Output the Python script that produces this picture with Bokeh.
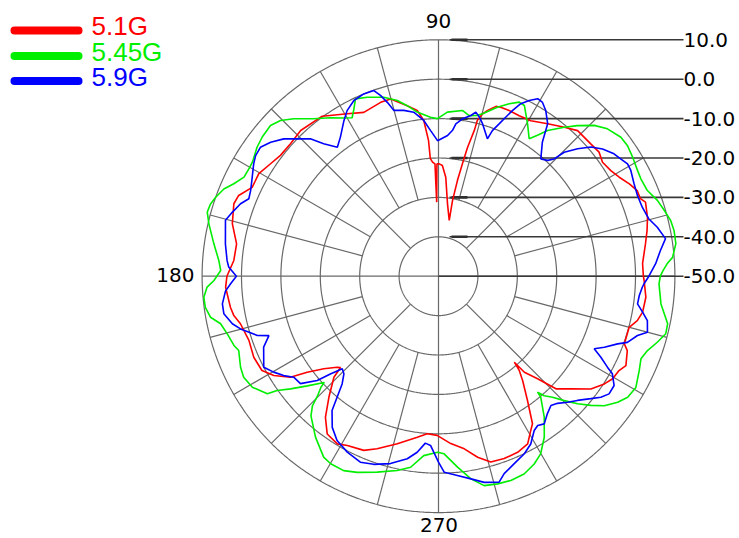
import numpy as np
from bokeh.plotting import figure
from bokeh.models import Range1d, ColumnDataSource
from bokeh.embed import file_html
from bokeh.resources import INLINE
from bokeh.core.properties import value

# ---------------- data ----------------
series_names = ["5.1G", "5.45G", "5.9G"]

red_deg = [0, 3.6, 9.0, 12.4, 15.7, 19.7, 21.0, 23.3, 25.8, 28.7, 31.5, 34.8, 37.7, 41.0, 46.3,
           49.8, 54.4, 59.3, 63.3, 66.9, 69.8, 71.3, 73.5, 74.8, 76.0, 76.2, 77.3, 78.0, 78.8,
           79.5, 79.1, 82.9, 85.8, 88.0, 89.6, 90.8, 91.4, 91.8, 93.0, 94.0, 94.2, 95.4, 97.3,
           100.4, 105.1, 108.4, 114.5, 119.3, 126.0, 133.4, 138.2, 142.6, 146.2, 150.3, 154.5,
           158.0, 160.5, 165.7, 170.9, 175.6, 180.0, 183.0, 188.5, 190.9, 193.5, 198.7, 203.7,
           208.1, 211.1, 214.3, 216.2, 218.9, 221.9, 223.0, 224.0, 227.8, 231.3, 234.8, 238.9,
           241.7, 246.8, 250.4, 256.2, 262.5, 265.9, 269.5, 274.2, 278.5, 282.2, 285.7, 289.8,
           294.2, 298.0, 300.9, 302.5, 305.6, 308.9, 310.6, 311.4, 311.8, 314.0, 316.2, 319.6,
           323.5, 327.0, 329.5, 332.4, 334.5, 338.5, 340.0, 345.0, 347.4, 350.0, 354.2, 358.8, 360]
red_db = [2.0, 1.9, 3.2, 4.2, 5.1, 5.8, 4.9, 4.9, 3.8, 2.3, 1.3, 0.7, 1.5, 1.2, 1.1,
          -0.5, -2.4, -4.1, -4.4, -4.3, -4.3, -4.5, -6.1, -7.3, -9.3, -11.9, -16.5, -20.8, -25.2,
          -30.5, -35.6, -31.5, -24.8, -21.9, -21.5, -21.5, -31.2, -21.5, -21.0, -20.0, -15.5, -10.3, -7.6,
          -6.0, -3.4, -3.5, -4.3, -2.7, 0.2, 0.9, 0.4, 0.5, 1.3, 2.5, 2.4,
          4.7, 5.1, 4.0, 1.9, 2.1, 3.7, 4.1, 3.4, 2.9, 1.7, 0.8, 1.2,
          0.8, -1.2, -4.5, -8.7, -12.6, -15.4, -16.0, -13.1, -8.6, -4.1, -1.0, -0.3,
          -1.2, -1.9, -3.5, -6.2, -8.8, -9.9, -9.6, -7.4, -5.7, -3.0, -1.0, -0.8,
          -1.0, -1.8, -4.4, -5.6, -11.2, -16.0, -18.5, -20.9, -17.3, -13.8, -8.7, -5.9,
          -1.9, 0.2, 1.3, 1.7, 2.7, 1.5, 0.2, 0.1, 1.7, 2.6, 2.9, 2.2, 2.0]

green_deg = [0, 1.4, 3.1, 4.6, 7.8, 11.0, 13.5, 16.2, 19.1, 22.3, 25.7, 28.0, 31.5, 34.7, 37.3,
             41.1, 44.1, 47.3, 49.8, 53.2, 54.9, 56.6, 59.7, 63.3, 65.1, 67.7, 70.8, 74.8, 76.4,
             79.2, 81.8, 86.9, 90.4, 92.9, 97.4, 100.4, 103.2, 107.0, 111.7, 115.1, 116.8, 118.6,
             120.9, 124.3, 128.4, 132.6, 135.4, 138.1, 141.7, 144.6, 148.5, 150.5, 153.0, 155.7,
             157.9, 160.5, 162.4, 164.5, 167.1, 171.8, 175.9, 178.5, 181.1, 182.7, 185.1, 187.6,
             190.2, 192.3, 195.2, 198.7, 200.4, 204.7, 207.4, 210.8, 214.5, 215.3, 217.3, 219.9,
             222.9, 223.4, 224.7, 225.8, 227.6, 232.6, 237.6, 240.1, 244.0, 247.5, 252.6, 258.0,
             261.7, 265.3, 269.7, 271.8, 275.7, 279.1, 282.3, 285.9, 289.5, 293.4, 297.0, 299.9,
             303.3, 306.9, 310.2, 310.5, 311.5, 313.3, 315.3, 317.5, 319.7, 322.0, 324.9, 327.4,
             330.6, 334.8, 337.8, 340.4, 343.2, 345.8, 348.3, 352.9, 358.0, 360]
green_db = [6.3, 7.0, 8.1, 9.6, 10.8, 10.9, 10.6, 9.7, 8.8, 7.3, 7.0, 7.2, 7.8, 8.3, 8.2,
            6.9, 5.0, 2.0, -0.5, -3.8, -6.3, -8.2, -5.2, -1.5, -1.3, -2.7, -4.6, -7.3, -8.0,
            -8.5, -7.5, -8.3, -10.0, -9.6, -8.0, -6.0, -4.2, -2.5, -1.1, -0.3, -2.4, -4.2,
            -3.2, -1.3, 1.0, 4.3, 6.3, 7.3, 7.0, 6.5, 5.4, 5.3, 5.4, 7.0,
            8.8, 10.0, 10.7, 10.9, 9.8, 7.6, 5.9, 5.3, 7.0, 8.8, 9.8, 9.7,
            8.8, 6.6, 5.6, 4.8, 4.1, 5.3, 5.7, 5.0, 2.7, 0.2, -2.8, -6.6,
            -10.4, -8.9, -6.8, -4.1, -2.0, 1.4, 4.4, 4.9, 4.9, 3.9, 2.1, 0.4,
            -1.0, -4.3, -5.3, -4.9, -1.3, 2.1, 4.4, 4.8, 5.0, 4.7, 3.5, 2.0,
            -1.1, -5.3, -9.8, -11.3, -9.5, -7.8, -5.1, -2.1, 0.7, 3.4, 5.6, 7.0,
            7.5, 6.3, 5.5, 6.3, 8.0, 9.5, 9.4, 6.9, 6.0, 6.3]

blue_deg = [0, 3.3, 6.6, 9.4, 12.6, 15.3, 18.7, 22.1, 25.3, 28.8, 30.7, 32.8, 34.9, 37.8, 40.3,
            42.5, 44.6, 45.4, 46.7, 48.9, 52.2, 54.4, 57.1, 59.1, 60.8, 62.7, 64.5, 65.9, 67.1,
            68.3, 69.7, 70.4, 73.9, 75.6, 77.2, 78.6, 81.3, 83.5, 84.5, 86.3, 90.4, 93.1, 95.4,
            98.6, 101.8, 105.1, 106.4, 107.8, 109.2, 112.3, 115.7, 118.9, 121.3, 125.2, 128.1,
            130.9, 133.0, 135.8, 138.4, 141.4, 144.1, 146.6, 148.7, 152.4, 155.5, 157.8, 159.9,
            162.8, 165.3, 171.4, 175.8, 177.5, 180.0, 182.1, 184.0, 187.3, 189.9, 193.0, 194.9,
            198.1, 199.3, 202.1, 207.5, 210.2, 212.7, 214.9, 217.9, 220.7, 222.1, 223.9, 225.9,
            228.2, 230.0, 231.6, 234.9, 238.3, 242.6, 247.2, 251.0, 255.6, 260.3, 263.1, 265.5,
            267.3, 270.0, 271.7, 275.4, 279.1, 282.5, 286.4, 288.4, 292.0, 295.8, 298.8, 301.8,
            303.6, 305.6, 308.4, 311.0, 313.1, 315.7, 318.2, 321.2, 323.3, 325.4, 328.1, 330.7,
            331.7, 333.5, 335.0, 336.8, 339.3, 340.7, 343.4, 345.0, 348.0, 350.0, 352.1, 354.5,
            356.9, 357.9, 360]
blue_db = [3.4, 5.2, 6.7, 8.4, 6.9, 5.3, 4.6, 4.5, 4.9, 5.7, 5.8, 5.0, 4.3, 2.7, 0.7,
           -2.1, -5.2, -8.2, -9.6, -10.5, -7.0, -2.4, 0.1, 1.4, 1.6, 0.2, -1.5, -3.9, -6.2,
           -8.4, -10.6, -13.0, -9.7, -8.3, -7.3, -8.4, -9.6, -11.1, -12.8, -14.2, -15.6, -13.0, -10.3,
           -7.9, -7.0, -6.4, -4.0, -1.8, -0.1, 0.0, -0.5, -2.0, -3.8, -6.8, -8.4,
           -5.5, -2.3, 0.0, 2.5, 4.5, 5.8, 5.6, 4.9, 3.4, 2.4, 2.0, 3.5,
           4.8, 5.9, 4.7, 3.8, 3.3, 1.3, 2.8, 4.2, 5.3, 5.3, 3.7, 2.0,
           -1.6, -4.4, -2.1, 0.0, -1.6, -3.3, -5.2, -5.6, -9.4, -13.0, -16.1, -15.5,
           -13.3, -10.0, -6.5, -3.1, -1.0, 0.3, 1.2, 0.5, -0.9, -3.0, -5.0, -7.5,
           -7.0, -2.8, -0.2, 0.8, 2.1, 3.6, 4.5, 2.8, 1.3, 0.05, -1.4, -3.9,
           -4.5, -3.9, -5.5, -6.5, -5.8, -4.2, -2.7, -0.4, 1.4, 2.6, 2.5, 0.6,
           -1.3, -4.0, -6.4, -4.2, -1.4, 0.8, 2.7, 4.9, 4.2, 2.6, 1.0, 1.2,
           1.8, 2.2, 3.4]

ring_db = [-40, -30, -20, -10, 0, 10]
level_db = [10, 0, -10, -20, -30, -40, -50]
level_labels = ["10.0", "0.0", "-10.0", "-20.0", "-30.0", "-40.0", "-50.0"]
angle_labels = ["90", "180", "270"]
spoke_deg = list(range(0, 360, 15))

# ---------------- geometry / layout ----------------
DB_MIN = -50.0
S = 3.94                 # px per dB
W, H = 737, 536
CX, CY = 438.0, 275.7    # centre in figure px (from top-left)

def px(xp):   # picture px -> data x
    return (xp - CX) / S

def py(yp):   # picture px -> data y
    return (CY - yp) / S

def polar(deg, db):
    r = np.asarray(db, float) - DB_MIN
    t = np.radians(np.asarray(deg, float))
    return r * np.cos(t), r * np.sin(t)

p = figure(width=W, height=H, output_backend="svg", toolbar_location=None,
           x_range=Range1d(-CX / S, (W - CX) / S), y_range=Range1d(-(H - CY) / S, CY / S),
           min_border=0, outline_line_color=None)
p.axis.visible = False
p.grid.visible = False
p.background_fill_color = "white"
p.border_fill_color = "white"

GRID = "#686868"
R_OUT = ring_db[-1] - DB_MIN

# rings
for d in ring_db:
    t = np.linspace(0, 2 * np.pi, 721)
    r = d - DB_MIN
    p.line(r * np.cos(t), r * np.sin(t), line_color=GRID, line_width=1.2)

# spokes
x0, y0, x1, y1 = [], [], [], []
for a in spoke_deg:
    if a % 90 == 0:
        continue
    r0 = (ring_db[0] - DB_MIN) if a % 45 == 0 else (ring_db[1] - DB_MIN)
    t = np.radians(a)
    x0.append(r0 * np.cos(t)); y0.append(r0 * np.sin(t))
    x1.append(R_OUT * np.cos(t)); y1.append(R_OUT * np.sin(t))
p.segment(x0, y0, x1, y1, line_color=GRID, line_width=1.2)
# main axes
p.segment([-R_OUT, 0], [0, -R_OUT], [R_OUT, 0], [0, R_OUT], line_color=GRID, line_width=1.2)

# level lines + labels
lx_end = px(683)
ly = [d - DB_MIN for d in level_db]
lx_start = [0 if d == DB_MIN else px(449) for d in level_db]
p.segment(lx_start, ly, [lx_end] * len(ly), ly, line_color="#383838", line_width=1.6)
p.segment([px(451)] * (len(ly) - 1), ly[:-1], [px(467)] * (len(ly) - 1), ly[:-1],
          line_color="#303030", line_width=2.6)
p.text(x=[px(683)] * len(ly), y=ly, text=level_labels, text_font=value("DejaVu Sans"),
       text_font_size="20px", text_align="left", text_baseline="middle", text_color="black")

# angle labels
ang_src = ColumnDataSource(dict(x=[px(438), px(194), px(438.5)],
                                y=[py(20.5), py(274), py(524)],
                                t=angle_labels,
                                align=["center", "right", "center"]))
p.text(x="x", y="y", text="t", text_align="align", source=ang_src,
       text_font=value("DejaVu Sans"), text_font_size="20px",
       text_baseline="middle", text_color="black")

# curves
colors = ["#ff0000", "#00ee00", "#0000ff"]
for deg, db, c in [(red_deg, red_db, colors[0]), (green_deg, green_db, colors[1]),
                   (blue_deg, blue_db, colors[2])]:
    x, y = polar(deg, db)
    p.line(x, y, line_color=c, line_width=1.6)

# legend
leg_y = [30, 55.5, 80.5]
p.segment([px(14)] * 3, [py(v) for v in leg_y], [px(78)] * 3, [py(v) for v in leg_y],
          line_color=colors, line_width=8, line_cap="round")
p.text(x=[px(91)] * 3, y=[py(v - 4.5) for v in leg_y], text=series_names,
       text_color=colors, text_font=value("Liberation Sans"), text_font_size="26px",
       text_align="left", text_baseline="middle")

open("out.html", "w").write(file_html(p, INLINE))
